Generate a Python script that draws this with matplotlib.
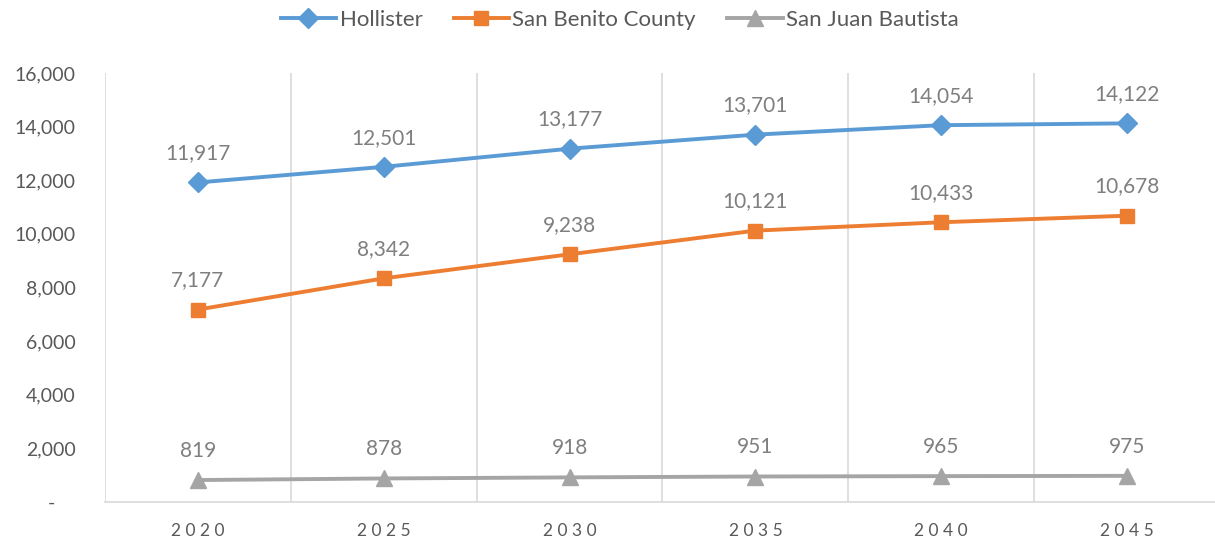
import matplotlib.pyplot as plt
from matplotlib.ticker import FuncFormatter

# data
years = ["2020", "2025", "2030", "2035", "2040", "2045"]
hollister = [11917, 12501, 13177, 13701, 14054, 14122]
san_benito = [7177, 8342, 9238, 10121, 10433, 10678]
san_juan = [819, 878, 918, 951, 965, 975]

series = [
    ("Hollister", hollister, "#5B9BD5", "D", 10),
    ("San Benito County", san_benito, "#ED7D31", "s", 10),
    ("San Juan Bautista", san_juan, "#A5A5A5", "^", 11),
]

plt.rcParams['font.family'] = ['Lato', 'DejaVu Sans']

fig = plt.figure(figsize=(12.15, 5.41), dpi=100)
ax = fig.add_axes([105 / 1215, 39 / 541, 1115 / 1215, 429 / 541])

x = list(range(len(years)))
for name, vals, color, marker, ms in series:
    ax.plot(x, vals, color=color, linewidth=2.8, marker=marker,
            markersize=ms, label=name, zorder=3)
    for xi, v in zip(x, vals):
        ax.annotate(f"{v:,}", (xi, v), xytext=(0, 21), textcoords="offset points",
                    ha="center", va="center", fontsize=15, color="#7F7F7F")

ax.set_xlim(-0.5, 5.5)
ax.set_ylim(0, 16000)
ax.set_yticks(range(0, 16001, 2000))
ax.yaxis.set_major_formatter(FuncFormatter(lambda v, p: "-    " if v == 0 else f"{int(v):,}"))
ax.set_xticks(x)
ax.set_xticklabels([" ".join(y) for y in years])
ax.set_xticks([i - 0.5 for i in range(len(years) + 1)], minor=True)
ax.grid(True, which="minor", axis="x", color="#D9D9D9", linewidth=1.2)

ax.tick_params(axis="y", length=0, pad=21, labelsize=14, colors="#595959")
ax.tick_params(axis="x", which="both", length=0, pad=15, labelsize=12.5, colors="#595959")

for s in ["top", "right", "left"]:
    ax.spines[s].set_visible(False)
ax.spines["bottom"].set_color("#D9D9D9")
ax.spines["bottom"].set_linewidth(1.2)

fig.legend(loc="center", bbox_to_anchor=(0.510, 0.963), ncol=3, frameon=False,
           fontsize=16, labelcolor="#595959", handlelength=2.5, columnspacing=1.4,
           handletextpad=0.15)

fig.savefig("out.png", dpi=100)
